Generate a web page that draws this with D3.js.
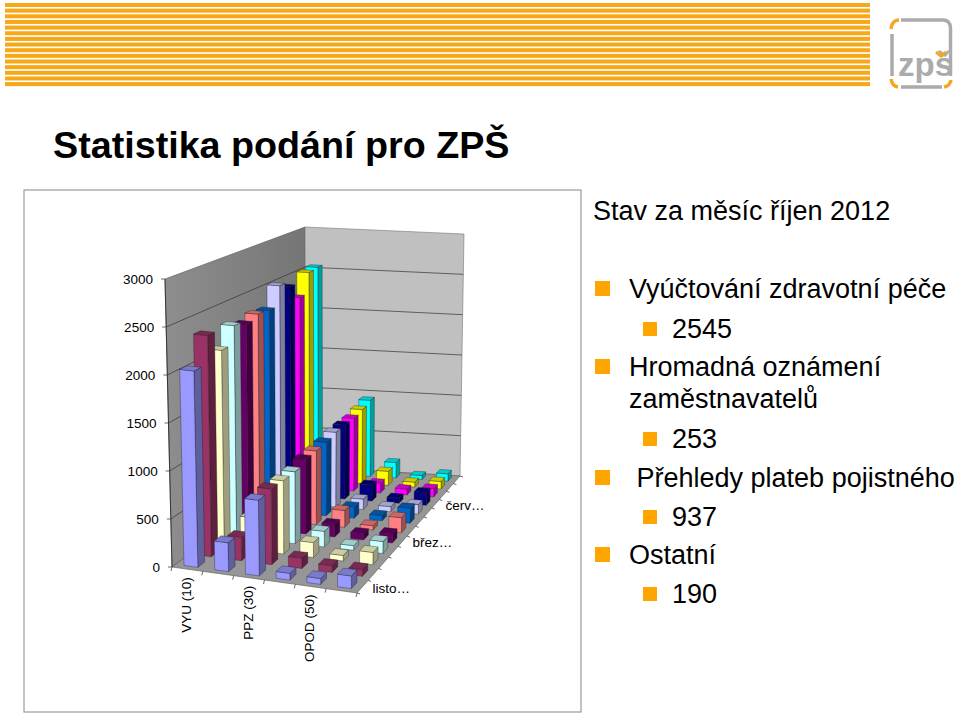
<!DOCTYPE html>
<html>
<head>
<meta charset="utf-8">
<title>Statistika podání pro ZPŠ</title>
<script src="https://cdnjs.cloudflare.com/ajax/libs/d3/7.8.5/d3.min.js"></script>
<style>
  html, body { margin: 0; padding: 0; background: #fff; }
  text { font-family: "Liberation Sans", Arial, sans-serif; fill: #000; }
</style>
</head>
<body>
<svg id="slide" width="960" height="713"></svg>
<script>
//months on the depth axis, only every fourth one gets a label
var months = ['listopad', 'prosinec', 'leden', 'únor', 'březen', 'duben', 'květen', 'červen', 'červenec', 'srpen', 'září', 'říjen'];
var monthLabels = {listopad: 'listo…', 'březen': 'břez…', 'červenec': 'červ…'};

//categories on the front axis, every second one is labelled
var categories = ['VYU (10)', '(20)', 'PPZ (30)', '(40)', 'OPOD (50)', '(60)'];
var categoryLabels = ['VYU (10)', 'PPZ (30)', 'OPOD (50)'];

var valueTicks = [0, 500, 1000, 1500, 2000, 2500, 3000];

//one array per category, one value per month
var vyu = [2050, 2350, 2120, 2320, 2270, 2320, 2300, 2530, 2460, 2280, 2530, 2545];
var cat20 = [300, 250, 350, 260, 250, 260, 250, 260, 250, 260, 250, 253];
var ppz = [785, 800, 785, 785, 825, 830, 840, 870, 870, 870, 900, 937];
var cat40 = [70, 110, 160, 170, 140, 190, 130, 120, 190, 120, 170, 190];
var opod = [60, 70, 60, 50, 70, 50, 60, 60, 60, 70, 60, 50];
var cat60 = [130, 70, 130, 130, 100, 170, 170, 110, 150, 100, 90, 90];
var rows = [vyu, cat20, ppz, cat40, opod, cat60];

var seriesColors = ['#9999FF', '#993366', '#FFFFCC', '#CCFFFF', '#660066', '#FF8080', '#0066CC', '#CCCCFF', '#000080', '#FF00FF', '#FFFF00', '#00FFFF'];

var reportPeriod = 'Stav za měsíc říjen 2012';
var listLevels = [1, 2, 1, 0, 2, 1, 2, 1, 2];
var listTexts = ['Vyúčtování zdravotní péče', '2545', 'Hromadná oznámení', 'zaměstnavatelů', '253', ' Přehledy plateb pojistného', '937', 'Ostatní', '190'];
var listBaselines = [298, 338, 376, 408, 448, 487, 526, 564, 603];

var svg = d3.select('#slide');
var ORANGE = '#FFA500';

//header stripes
var stripes = d3.range(15);
svg.append('g').selectAll('rect').data(stripes).enter().append('rect')
  .attr('x', 5).attr('width', 865)
  .attr('y', function (d) { return 3 + d * 5.65; })
  .attr('height', 4)
  .attr('fill', '#F7A818');

//logo
var logo = svg.append('g').attr('fill', 'none');
logo.append('path').attr('stroke', '#ABABAB').attr('stroke-width', 3.5)
  .attr('d', 'M901,20H943Q950,20 950.5,28V76M892,34V76M901,87H942');
logo.append('path').attr('stroke', '#F5A623').attr('stroke-width', 3.5)
  .attr('d', 'M899,20Q892,20 891,29M891,79Q892,86 898,87M944,87Q950,86 951,80');
logo.append('text').attr('x', 898).attr('y', 76).text('zpš')
  .style('font-size', '33px').style('font-weight', 'bold').style('fill', '#ABABAB');
logo.append('path').attr('stroke', '#F5A623').attr('stroke-width', 3)
  .attr('d', 'M936,52L941,56L946,52');

//title
svg.append('text').attr('x', 53).attr('y', 158).text('Statistika podání pro ZPŠ')
  .style('font-size', '37.7px').style('font-weight', 'bold');

//chart frame
svg.append('rect').attr('x', 24).attr('y', 190).attr('width', 557).attr('height', 522)
  .attr('fill', '#fff').attr('stroke', '#9a9a9a').attr('stroke-width', 1.2);

//unit square -> quad, order (0,0) (1,0) (1,1) (0,1)
function homography(q) {
  var dx1 = q[1][0] - q[2][0], dx2 = q[3][0] - q[2][0], sx = q[0][0] - q[1][0] + q[2][0] - q[3][0];
  var dy1 = q[1][1] - q[2][1], dy2 = q[3][1] - q[2][1], sy = q[0][1] - q[1][1] + q[2][1] - q[3][1];
  var det = dx1 * dy2 - dx2 * dy1;
  var g = (sx * dy2 - dx2 * sy) / det, h = (dx1 * sy - sx * dy1) / det;
  var a = q[1][0] - q[0][0] + g * q[1][0], b = q[3][0] - q[0][0] + h * q[3][0];
  var d = q[1][1] - q[0][1] + g * q[1][1], e = q[3][1] - q[0][1] + h * q[3][1];
  return function (u, v) {
    var w = g * u + h * v + 1;
    return [(a * u + b * v + q[0][0]) / w, (d * u + e * v + q[0][1]) / w];
  };
}

//floor and ceiling of the 3d box, u goes along the categories, v goes to the back
var floorAt = homography([[172, 567], [357, 593], [460, 476], [306, 467]]);
var ceilAt = homography([[165, 279], [358, 300], [464, 234], [305, 227]]);

//paddingOuter is half the inner one so the bands line up with the axis ticks
var xBand = d3.scaleBand().domain(categories).range([0, 1]).paddingInner(0.55).paddingOuter(0.275);
var zBand = d3.scaleBand().domain(months).range([0, 1]).paddingInner(0.5).paddingOuter(0.25);
var h = d3.scaleLinear().domain([0, 3000]).range([0, 1]);

function lerp(a, b, t) {
  return [a[0] + (b[0] - a[0]) * t, a[1] + (b[1] - a[1]) * t];
}
//perspective only in depth, the categories stay evenly spaced along the front edge
function project(u, v, value) {
  var f = lerp(floorAt(0, v), floorAt(1, v), u);
  var c = lerp(ceilAt(0, v), ceilAt(1, v), u);
  return lerp(f, c, h(value));
}
function poly(points) {
  return 'M' + points.map(function (p) { return p[0].toFixed(2) + ',' + p[1].toFixed(2); }).join('L') + 'Z';
}

var defs = svg.append('defs');
var wallGrad = defs.append('linearGradient').attr('id', 'sideWall');
wallGrad.append('stop').attr('offset', '0%').attr('stop-color', '#8e8e8e');
wallGrad.append('stop').attr('offset', '100%').attr('stop-color', '#757575');

var chart = svg.append('g');

//walls and floor
chart.append('path').attr('fill', 'url(#sideWall)').attr('stroke', '#555').attr('stroke-width', 0.6)
  .attr('d', poly([project(0, 0, 0), project(0, 1, 0), project(0, 1, 3000), project(0, 0, 3000)]));
chart.append('path').attr('fill', '#C0C0C0').attr('stroke', '#777').attr('stroke-width', 0.6)
  .attr('d', poly([project(0, 1, 0), project(1, 1, 0), project(1, 1, 3000), project(0, 1, 3000)]));
chart.append('path').attr('fill', '#969696').attr('stroke', '#555').attr('stroke-width', 0.6)
  .attr('d', poly([project(0, 0, 0), project(1, 0, 0), project(1, 1, 0), project(0, 1, 0)]));

//grid lines on both walls
var grid = chart.append('g').attr('fill', 'none').attr('stroke', '#333').attr('stroke-width', 0.7);
grid.selectAll('path').data(valueTicks.slice(1, -1)).enter().append('path')
  .attr('d', function (d) {
    return d3.line()([project(0, 0, d), project(0, 1, d), project(1, 1, d)]);
  });

//value axis
var axis = chart.append('g');
axis.append('path').attr('fill', 'none').attr('stroke', '#222').attr('stroke-width', 0.8)
  .attr('d', d3.line()([project(0, 0, 0), project(0, 0, 3000)]));
var tick = axis.selectAll('g').data(valueTicks).enter().append('g')
  .attr('transform', function (d) { var p = project(0, 0, d); return 'translate(' + p[0] + ',' + p[1] + ')'; });
tick.append('line').attr('x1', -4).attr('x2', 0).attr('stroke', '#444').attr('stroke-width', 0.8);
tick.append('text').attr('x', -12).attr('dy', '0.35em').attr('text-anchor', 'end')
  .style('font-size', '13.5px').text(function (d) { return d; });

//ticks along the front edge and the right edge
var frontTicks = d3.range(categories.length + 1);
chart.append('g').selectAll('line').data(frontTicks).enter().append('line')
  .attr('stroke', '#444').attr('stroke-width', 0.8)
  .attr('x1', function (d) { return project(d / categories.length, 0, 0)[0]; })
  .attr('y1', function (d) { return project(d / categories.length, 0, 0)[1]; })
  .attr('x2', function (d) { return project(d / categories.length, 0, 0)[0] - 1; })
  .attr('y2', function (d) { return project(d / categories.length, 0, 0)[1] + 4; });
var sideTicks = d3.range(months.length + 1);
chart.append('g').selectAll('line').data(sideTicks).enter().append('line')
  .attr('stroke', '#444').attr('stroke-width', 0.8)
  .attr('x1', function (d) { return project(1, d / months.length, 0)[0]; })
  .attr('y1', function (d) { return project(1, d / months.length, 0)[1]; })
  .attr('x2', function (d) { return project(1, d / months.length, 0)[0] + 3; })
  .attr('y2', function (d) { return project(1, d / months.length, 0)[1] + 1; });

//bars, painted from the back row to the front, left to right inside a row
var bars = [];
d3.range(months.length - 1, -1, -1).forEach(function (m) {
  categories.forEach(function (cat, c) {
    bars.push({cat: cat, month: months[m], value: rows[c][m], color: seriesColors[m]});
  });
});

function shade(color, k) {
  var c = d3.rgb(color);
  return d3.rgb(c.r * k, c.g * k, c.b * k).formatHex();
}
function corners(d) {
  var u0 = xBand(d.cat), u1 = u0 + xBand.bandwidth();
  var v0 = zBand(d.month), v1 = v0 + zBand.bandwidth();
  return {u0: u0, u1: u1, v0: v0, v1: v1};
}

var bar = chart.append('g').selectAll('g').data(bars).enter().append('g')
  .attr('stroke', '#1a1a1a').attr('stroke-width', 0.35).attr('stroke-linejoin', 'round');
bar.append('path').attr('fill', function (d) { return shade(d.color, 0.62); })
  .attr('d', function (d) {
    var b = corners(d);
    return poly([project(b.u1, b.v0, 0), project(b.u1, b.v1, 0), project(b.u1, b.v1, d.value), project(b.u1, b.v0, d.value)]);
  });
bar.append('path').attr('fill', function (d) { return d.color; })
  .attr('d', function (d) {
    var b = corners(d);
    return poly([project(b.u0, b.v0, 0), project(b.u1, b.v0, 0), project(b.u1, b.v0, d.value), project(b.u0, b.v0, d.value)]);
  });
bar.append('path').attr('fill', function (d) { return shade(d.color, 0.8); })
  .attr('d', function (d) {
    var b = corners(d);
    return poly([project(b.u0, b.v0, d.value), project(b.u1, b.v0, d.value), project(b.u1, b.v1, d.value), project(b.u0, b.v1, d.value)]);
  });

//category labels
chart.append('g').selectAll('text').data(categoryLabels).enter().append('text')
  .attr('transform', function (d) {
    var p = project(xBand(d) + xBand.bandwidth() / 2, 0, 0);
    return 'translate(' + (p[0] + 3.5) + ',' + (p[1] + 8) + ') rotate(-90)';
  })
  .attr('text-anchor', 'end')
  .style('font-size', '13.5px')
  .text(function (d) { return d; });

//month labels
chart.append('g').selectAll('text').data(Object.keys(monthLabels)).enter().append('text')
  .attr('transform', function (d) {
    var p = project(1, zBand(d) + zBand.bandwidth() / 2, 0);
    return 'translate(' + (p[0] + 10) + ',' + (p[1] + 6) + ')';
  })
  .style('font-size', '13.5px')
  .text(function (d) { return monthLabels[d]; });

//right column
svg.append('text').attr('x', 593).attr('y', 220).text(reportPeriod).style('font-size', '27px');

var items = listTexts.map(function (t, i) {
  return {text: t, level: listLevels[i], y: listBaselines[i]};
});
var item = svg.append('g').selectAll('g').data(items).enter().append('g');
item.filter(function (d) { return d.level > 0; }).append('rect')
  .attr('fill', ORANGE)
  .attr('x', function (d) { return d.level === 1 ? 595 : 643; })
  .attr('y', function (d) { return d.level === 1 ? d.y - 17 : d.y - 16; })
  .attr('width', function (d) { return d.level === 1 ? 15 : 14; })
  .attr('height', function (d) { return d.level === 1 ? 15 : 14; });
item.append('text')
  .attr('x', function (d) { return d.level === 2 ? 672 : 629; })
  .attr('y', function (d) { return d.y; })
  .style('font-size', '27px')
  .style('white-space', 'pre')
  .text(function (d) { return d.text; });
</script>
</body>
</html>
